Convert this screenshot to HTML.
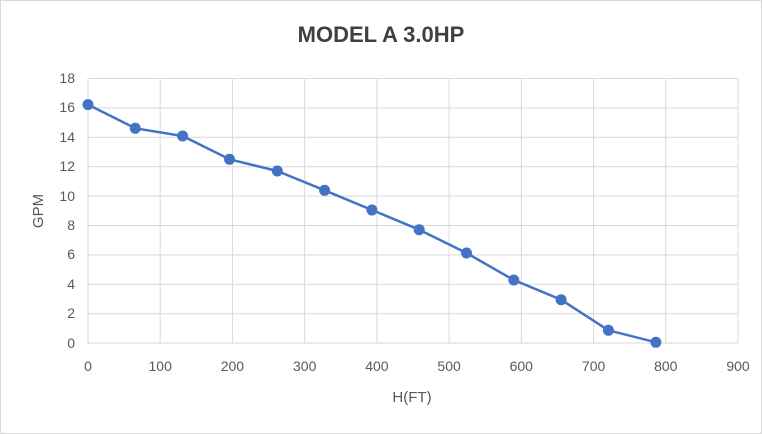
<!DOCTYPE html>
<html><head><meta charset="utf-8"><style>
html,body{margin:0;padding:0;background:#fff;}
svg{display:block;font-family:"Liberation Sans",sans-serif;}
</style></head><body>
<svg width="762" height="434" viewBox="0 0 762 434" xmlns="http://www.w3.org/2000/svg">
<rect x="0.5" y="0.5" width="761" height="433" fill="#fff" stroke="#d9d9d9"/>
<text x="381" y="42" text-anchor="middle" font-size="22" font-weight="bold" fill="#404040">MODEL A 3.0HP</text>
<g stroke="#d9d9d9" stroke-width="1">
<line x1="88" y1="78.5" x2="738" y2="78.5"/>
<line x1="88" y1="107.9" x2="738" y2="107.9"/>
<line x1="88" y1="137.3" x2="738" y2="137.3"/>
<line x1="88" y1="166.7" x2="738" y2="166.7"/>
<line x1="88" y1="196.1" x2="738" y2="196.1"/>
<line x1="88" y1="225.5" x2="738" y2="225.5"/>
<line x1="88" y1="254.9" x2="738" y2="254.9"/>
<line x1="88" y1="284.3" x2="738" y2="284.3"/>
<line x1="88" y1="313.7" x2="738" y2="313.7"/>
<line x1="88" y1="343" x2="738" y2="343"/>
<line x1="88" y1="78" x2="88" y2="343"/>
<line x1="160.2" y1="78" x2="160.2" y2="343"/>
<line x1="232.4" y1="78" x2="232.4" y2="343"/>
<line x1="304.7" y1="78" x2="304.7" y2="343"/>
<line x1="376.9" y1="78" x2="376.9" y2="343"/>
<line x1="449.1" y1="78" x2="449.1" y2="343"/>
<line x1="521.3" y1="78" x2="521.3" y2="343"/>
<line x1="593.6" y1="78" x2="593.6" y2="343"/>
<line x1="665.8" y1="78" x2="665.8" y2="343"/>
<line x1="738" y1="78" x2="738" y2="343"/>
</g>
<g font-size="14" fill="#595959" text-anchor="end">
<text x="75" y="83">18</text><text x="75" y="112">16</text><text x="75" y="142">14</text>
<text x="75" y="171">12</text><text x="75" y="201">10</text><text x="75" y="230">8</text>
<text x="75" y="259">6</text><text x="75" y="289">4</text><text x="75" y="318">2</text>
<text x="75" y="348">0</text>
</g>
<g font-size="14" fill="#595959" text-anchor="middle">
<text x="88" y="371">0</text><text x="160.2" y="371">100</text><text x="232.4" y="371">200</text>
<text x="304.7" y="371">300</text><text x="376.9" y="371">400</text><text x="449.1" y="371">500</text>
<text x="521.3" y="371">600</text><text x="593.6" y="371">700</text><text x="665.8" y="371">800</text>
<text x="738" y="371">900</text>
</g>
<text x="412" y="402" text-anchor="middle" font-size="15" fill="#595959">H(FT)</text>
<text transform="translate(43,211) rotate(-90)" text-anchor="middle" font-size="15" fill="#595959">GPM</text>
<polyline fill="none" stroke="#4472c4" stroke-width="2.5" stroke-linejoin="round"
points="88,104.6 135.3,128.3 182.6,136 229.5,159.3 277.3,171 324.6,190.3 371.9,210 419.2,229.7 466.5,253 513.8,280 561.1,299.7 608.4,330.3 655.9,342.3"/>
<g fill="#4472c4">
<circle cx="88" cy="104.6" r="5.5"/><circle cx="135.3" cy="128.3" r="5.5"/><circle cx="182.6" cy="136" r="5.5"/>
<circle cx="229.5" cy="159.3" r="5.5"/><circle cx="277.3" cy="171" r="5.5"/><circle cx="324.6" cy="190.3" r="5.5"/>
<circle cx="371.9" cy="210" r="5.5"/><circle cx="419.2" cy="229.7" r="5.5"/><circle cx="466.5" cy="253" r="5.5"/>
<circle cx="513.8" cy="280" r="5.5"/><circle cx="561.1" cy="299.7" r="5.5"/><circle cx="608.4" cy="330.3" r="5.5"/>
<circle cx="655.9" cy="342.3" r="5.5"/>
</g>
</svg>
</body></html>
